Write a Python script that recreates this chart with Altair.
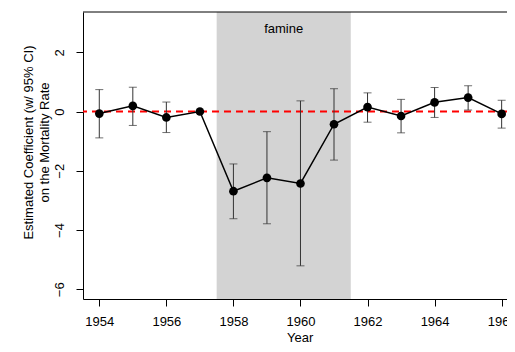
import altair as alt
import pandas as pd

years = list(range(1954, 1967))
coef = [-0.07, 0.19, -0.20, 0.00, -2.69, -2.24, -2.43, -0.43, 0.15, -0.15, 0.31, 0.47, -0.08]
lower = [-0.89, -0.47, -0.71, None, -3.62, -3.79, -5.21, -1.64, -0.36, -0.72, -0.20, 0.05, -0.56]
upper = [0.74, 0.82, 0.32, None, -1.77, -0.68, 0.36, 0.77, 0.63, 0.41, 0.81, 0.87, 0.38]
x_ticks = [1954, 1956, 1958, 1960, 1962, 1964, 1966]
y_ticks = [-6, -4, -2, 0, 2]
famine_start, famine_end = 1957.5, 1961.5
famine_label = "famine"

df = pd.DataFrame({"year": years, "coef": coef, "lower": lower, "upper": upper})
ci = df.dropna()

FONT = "Liberation Sans"
W, H = 424, 287
PX_PER_YEAR = 33.53
X0 = 1953.514
X1 = X0 + W / PX_PER_YEAR
xscale = alt.Scale(domain=[X0, X1], nice=False, zero=False)
yscale = alt.Scale(domain=[-6.33, 3.36], nice=False, zero=False)

xaxis = alt.Axis(values=x_ticks, format="d", title="Year", grid=False,
                 labelFontSize=13, titleFontSize=13, tickSize=7, labelPadding=9,
                 titleBaseline="alphabetic", titleY=42, titleX=(1959.5 - X0) * PX_PER_YEAR + 16,
                 domainColor="black", tickColor="black",
                 labelColor="black", titleColor="black", titleFontWeight="normal",
                 labelFont=FONT, titleFont=FONT, labelFlush=False, labelOverlap=False)
yaxis = alt.Axis(values=y_ticks, title=["Estimated Coefficient (w/ 95% CI)", "on the Mortality Rate"],
                 grid=False, labelFontSize=13, titleFontSize=13, tickSize=7,
                 labelAngle=-90, labelAlign="center", labelBaseline="bottom", labelPadding=10,
                 domainColor="black", tickColor="black", labelColor="black",
                 titleColor="black", titleFontWeight="normal", labelFont=FONT, titleFont=FONT,
                 titleAngle=-90, titleAlign="center", titleBaseline="middle",
                 titleX=-55, titleY=130, titleLineHeight=16, labelFlush=False)

band = alt.Chart(pd.DataFrame({"s": [famine_start], "e": [famine_end]})).mark_rect(
    color="#d3d3d3").encode(
    x=alt.X("s:Q", scale=xscale, axis=xaxis), x2="e:Q",
    y=alt.value(0), y2=alt.value(H))

label = alt.Chart(pd.DataFrame({"x": [(famine_start + famine_end) / 2], "y": [2.8], "t": [famine_label]})).mark_text(
    fontSize=13, font=FONT, color="black").encode(
    x=alt.X("x:Q", scale=xscale), y=alt.Y("y:Q", scale=yscale, axis=yaxis), text="t:N")

zero = alt.Chart(pd.DataFrame({"y": [0]})).mark_rule(
    color="#ff0000", strokeWidth=2, strokeDash=[7, 5]).encode(
    y=alt.Y("y:Q", scale=yscale))

err = alt.Chart(ci).mark_rule(color="#333333", strokeWidth=1).encode(
    x=alt.X("year:Q", scale=xscale), y=alt.Y("lower:Q", scale=yscale), y2="upper:Q")
cap_lo = alt.Chart(ci).mark_tick(color="#333333", orient="horizontal", size=8, thickness=1).encode(
    x=alt.X("year:Q", scale=xscale), y=alt.Y("lower:Q", scale=yscale))
cap_hi = alt.Chart(ci).mark_tick(color="#333333", orient="horizontal", size=8, thickness=1).encode(
    x=alt.X("year:Q", scale=xscale), y=alt.Y("upper:Q", scale=yscale))

line = alt.Chart(df).mark_line(color="black", strokeWidth=1.5).encode(
    x=alt.X("year:Q", scale=xscale), y=alt.Y("coef:Q", scale=yscale))
pts = alt.Chart(df).mark_point(filled=True, color="black", size=75, opacity=1).encode(
    x=alt.X("year:Q", scale=xscale), y=alt.Y("coef:Q", scale=yscale))

top = alt.Chart(pd.DataFrame({"a": [0]})).mark_rule(color="black", strokeWidth=1).encode(
    x=alt.value(0), x2=alt.value(W), y=alt.value(0))

chart = alt.layer(band, label, zero, err, cap_lo, cap_hi, line, pts, top).properties(
    width=W, height=H,
    autosize=alt.AutoSizeParams(type="none"),
    padding={"left": 75, "top": 4, "right": 0, "bottom": 45},
).configure_view(stroke=None).configure_axis(domainWidth=1, tickWidth=1)

chart.save("out.html", embed_options={"renderer": "svg", "actions": False})
